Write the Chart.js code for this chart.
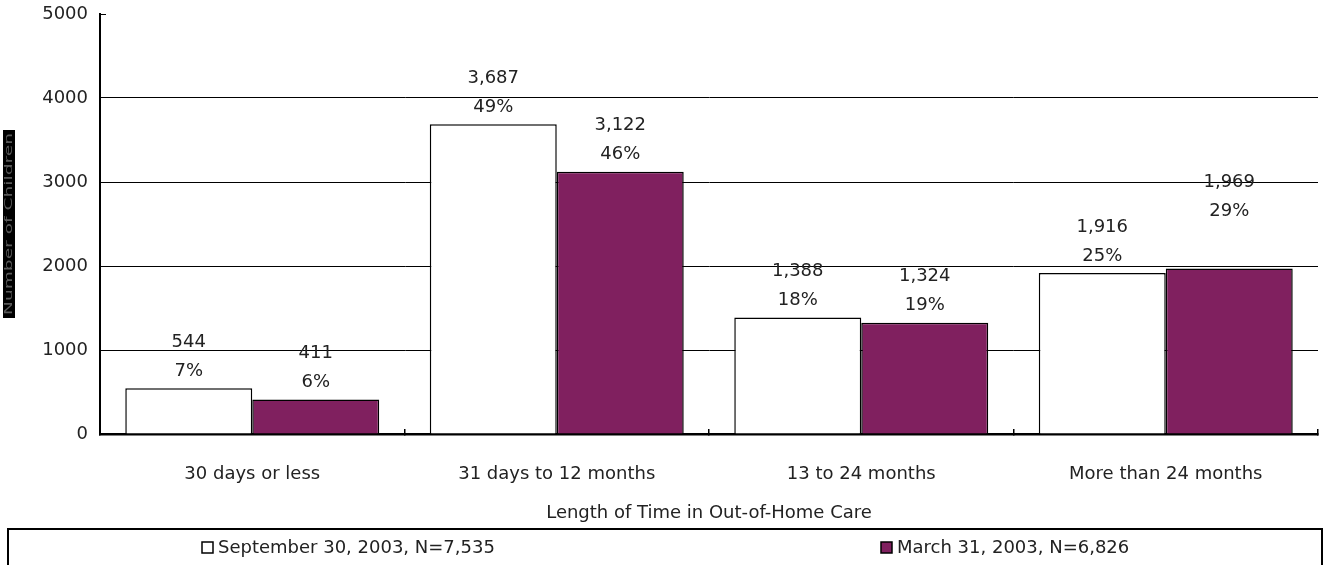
<!DOCTYPE html>
<html>
<head>
<meta charset="utf-8">
<script src="https://cdn.jsdelivr.net/npm/chart.js@4/dist/chart.umd.min.js"></script>
<style>
  body { margin: 0; background: #fff; }
  canvas { display: block; }
</style>
</head>
<body>
<canvas id="chart" width="1325" height="565"></canvas>
<script>
// chart data
const categories = ['30 days or less', '31 days to 12 months', '13 to 24 months', 'More than 24 months'];
const sepCounts = [544, 3687, 1388, 1916];
const marCounts = [411, 3122, 1324, 1969];
const sepPercents = [7, 49, 18, 25];
const marPercents = [6, 46, 19, 29];
const seriesNames = ['September 30, 2003, N=7,535', 'March 31, 2003, N=6,826'];
const yMax = 5000;
const yStep = 1000;

Chart.defaults.font.family = '"DejaVu Sans", sans-serif';
Chart.defaults.font.size = 18;
Chart.defaults.color = '#222';

// value + percent labels above each bar
const barLabels = {
  id: 'barLabels',
  afterDatasetsDraw(chart) {
    const ctx = chart.ctx;
    const pcts = [sepPercents, marPercents];
    ctx.save();
    ctx.font = '18px "DejaVu Sans"';
    ctx.fillStyle = '#222';
    ctx.textAlign = 'center';
    ctx.textBaseline = 'middle';
    chart.data.datasets.forEach((ds, di) => {
      chart.getDatasetMeta(di).data.forEach((bar, i) => {
        // the last label was moved up by hand in the original
        const lift = (di === 1 && i === 3) ? 40 : 0;
        ctx.fillText(ds.data[i].toLocaleString('en-US'), bar.x, bar.y - 46 - lift);
        ctx.fillText(pcts[di][i] + '%', bar.x, bar.y - 17 - lift);
      });
    });
    ctx.restore();
  }
};

// odd little black y-axis title box
const yTitle = {
  id: 'yTitle',
  afterDraw(chart) {
    const ctx = chart.ctx;
    ctx.save();
    ctx.fillStyle = '#000';
    ctx.fillRect(3, 130, 12, 188);
    ctx.translate(9, 224);
    ctx.rotate(-Math.PI / 2);
    ctx.font = '11px "DejaVu Sans"';
    const w = ctx.measureText('Number of Children').width;
    ctx.scale(182 / w, 1);
    ctx.fillStyle = '#5a5a5a';
    ctx.textAlign = 'center';
    ctx.textBaseline = 'middle';
    ctx.fillText('Number of Children', 0, 0);
    ctx.restore();
  }
};

// boxed legend spread across the full width
const legendBox = {
  id: 'legendBox',
  afterDraw(chart) {
    const ctx = chart.ctx;
    const left = 8, right = 1322, top = 529, y = 548;
    ctx.save();
    ctx.strokeStyle = '#000';
    ctx.lineWidth = 2;
    ctx.strokeRect(left, top, right - left, 60);
    ctx.font = '18px "DejaVu Sans"';
    ctx.textBaseline = 'middle';
    const slot = (right - left) / chart.data.datasets.length;
    chart.data.datasets.forEach((ds, i) => {
      const w = 16 + ctx.measureText(ds.label).width;
      const x = Math.round(left + slot * (i + 0.5) - w / 2 + 12);
      ctx.fillStyle = ds.backgroundColor;
      ctx.fillRect(x, y - 6, 11, 11);
      ctx.lineWidth = 1.5;
      ctx.strokeStyle = '#000';
      ctx.strokeRect(x, y - 6, 11, 11);
      ctx.fillStyle = '#222';
      ctx.fillText(ds.label, x + 16, y);
    });
    ctx.restore();
  }
};

new Chart(document.getElementById('chart'), {
  type: 'bar',
  data: {
    labels: categories,
    datasets: [{
      label: seriesNames[0],
      data: sepCounts,
      backgroundColor: '#ffffff',
      borderColor: '#000',
      borderWidth: 1.5,
      categoryPercentage: 0.834,
      barPercentage: 1
    }, {
      label: seriesNames[1],
      data: marCounts,
      backgroundColor: '#80205f',
      borderColor: '#000',
      borderWidth: 1.5,
      categoryPercentage: 0.834,
      barPercentage: 1
    }]
  },
  options: {
    responsive: false,
    animation: false,
    devicePixelRatio: 1,
    layout: { padding: { left: 0, right: 7, top: 0, bottom: 37 } },
    plugins: {
      legend: { display: false },
      tooltip: { enabled: false }
    },
    scales: {
      x: {
        grid: { drawOnChartArea: false, tickLength: -5, tickColor: '#000', lineWidth: 1.5 },
        border: { color: '#000', width: 2.5 },
        ticks: { padding: 35, color: '#222' },
        title: { display: true, text: 'Length of Time in Out-of-Home Care', color: '#222', padding: { top: 0, bottom: 4 } },
        afterFit(scale) { scale.height = 94; }
      },
      y: {
        min: 0,
        max: yMax,
        ticks: { stepSize: yStep, padding: 18, color: '#222', callback: v => String(v) },
        grid: {
          color: ctx => ctx.tick && ctx.tick.value === yMax ? 'rgba(0,0,0,0)' : '#000',
          tickColor: '#000',
          tickLength: -6,
          lineWidth: 1
        },
        border: { color: '#000', width: 2 },
        afterFit(scale) {
          scale.width = 100;
          scale.paddingTop = 14;
          scale.paddingBottom = 0;
        }
      }
    }
  },
  plugins: [barLabels, yTitle, legendBox]
});
</script>
</body>
</html>
